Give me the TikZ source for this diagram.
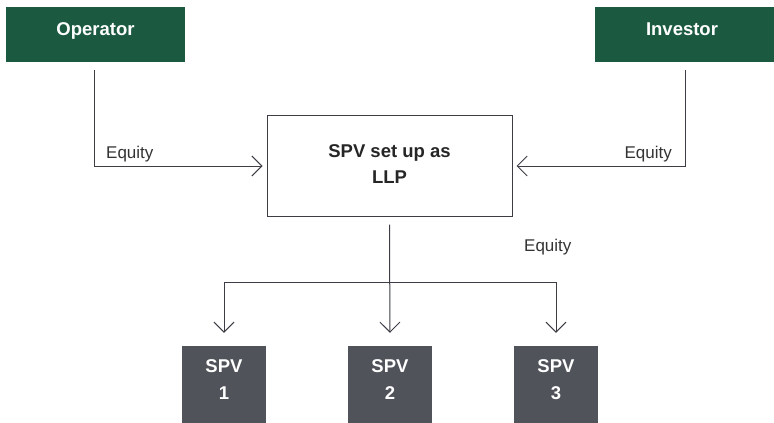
\documentclass[tikz,border=0pt]{standalone}
\usepackage{fontspec}
\setmainfont{Liberation Sans}
\usetikzlibrary{arrows.meta,calc}
\definecolor{boxgreen}{HTML}{1B5A41}
\definecolor{boxgray}{HTML}{51535B}
\definecolor{linegray}{HTML}{3C3D45}
\definecolor{txtgray}{HTML}{333333}
\tikzset{
  topbox/.style={fill=boxgreen, draw=none, minimum width=179pt, minimum height=55pt, inner sep=0pt},
  spvbox/.style={fill=boxgray, draw=none, minimum width=84pt, minimum height=77pt, inner sep=0pt},
  llpbox/.style={draw=linegray, line width=1pt, fill=white, minimum width=245pt, minimum height=101pt, inner sep=0pt},
  whitetxt/.style={text=white, font=\fontsize{18.5}{26}\selectfont\bfseries, align=center, inner sep=0pt},
  blacktxt/.style={text=black!85, font=\fontsize{18.5}{26}\selectfont\bfseries, align=center, inner sep=0pt},
  eqlabel/.style={text=txtgray, font=\fontsize{17}{20}\selectfont, inner sep=0pt},
  conn/.style={draw=linegray, line width=1pt},
  arr/.style={conn, -{Straight Barb[length=10pt,width=20pt,line width=1pt]}},
}
\begin{document}
\begin{tikzpicture}[x=1pt,y=-1pt]
\useasboundingbox (0,0) rectangle (774,423);
% top boxes
\node[topbox] (op) at (95.5,34.5) {};
\node[whitetxt, anchor=base] (optxt) at (95.5,35) {Operator};
\node[topbox] (inv) at (684.5,34.5) {};
\node[whitetxt, anchor=base] (invtxt) at (682,35) {Investor};
% central box
\node[llpbox] (llp) at (389.5,165.5) {};
\node[blacktxt, anchor=base] (llptxt1) at (389.5,157) {SPV set up as};
\node[blacktxt, anchor=base] (llptxt2) at (389.5,183) {LLP};
% bottom boxes
\node[spvbox] (s1) at (224,384.5) {};
\node[spvbox] (s2) at (390,384.5) {};
\node[spvbox] (s3) at (556,384.5) {};
\foreach \n/\x in {1/224,2/390,3/556}{
  \node[whitetxt, anchor=base] (s\n a) at (\x,372) {SPV};
  \node[whitetxt, anchor=base] (s\n b) at (\x,399) {\n};
}
% coordinates
\coordinate (opc) at (94.7,166);
\coordinate (invc) at (685,166);
\coordinate (branch) at (390,282);
\coordinate (bl) at (224,282);
\coordinate (br) at (556,282);
% connectors
\draw[arr, shorten >=4pt] ([yshift=-8pt]op.south -| opc) -- (opc) -- (llp.west |- opc);
\draw[arr, shorten >=4pt] ([yshift=-8pt]inv.south -| invc) -- (invc) -- (llp.east |- invc);
\draw[arr, shorten >=13pt] ([yshift=-8pt]llp.south) -- (s2.north);
\draw[conn] (bl) -- (br);
\draw[arr, shorten >=13pt] (bl) -- (s1.north);
\draw[arr, shorten >=13pt] (br) -- (s3.north);
% labels
\node[eqlabel, anchor=base west] (eq1) at (106,158) {Equity};
\node[eqlabel, anchor=base east] (eq2) at (672,158) {Equity};
\node[eqlabel, anchor=base west] (eq3) at (524,251) {Equity};
\end{tikzpicture}
\end{document}
